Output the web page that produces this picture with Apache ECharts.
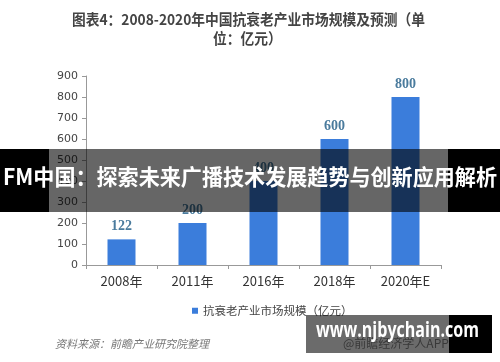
<!DOCTYPE html>
<html><head><meta charset="utf-8">
<script src="https://cdn.jsdelivr.net/npm/echarts@6/dist/echarts.min.js"></script>
<style>html,body{margin:0;padding:0;background:#fff}#c{width:500px;height:362px}</style>
</head><body><div id="c"></div>
<script>
const categories = ['2008年','2011年','2016年','2018年','2020年E'];
const values = [122, 200, 400, 600, 800];
const seriesName = '抗衰老产业市场规模（亿元）';
const titleLines = ['图表4：2008-2020年中国抗衰老产业市场规模及预测（单', '位：亿元）'];
const sourceText = '资料来源：前瞻产业研究院整理';
const bannerText = 'FM中国：探索未来广播技术发展趋势与创新应用解析';
const siteText = 'www.njbychain.com';
const appText = '@前瞻经济学人APP';

const cjk = '"Noto Sans CJK SC", "Noto Sans", sans-serif';
const mctx = document.createElement('canvas').getContext('2d');
function fitScale(text, font, target) {
  mctx.font = font;
  return target / mctx.measureText(text).width;
}
const bannerFont = 'bold 22px "Noto Sans CJK SC"';
const siteFont = 'bold 21px "Open Sans", "DejaVu Sans", sans-serif';
const titleFont = 'bold 15px "Noto Sans CJK SC"';
const bannerScale = fitScale(bannerText, bannerFont, 494);
const siteScale = fitScale(siteText, siteFont, 163);
const titleScale = fitScale(titleLines[0], titleFont, 353);

const chart = echarts.init(document.getElementById('c'), null, {renderer: 'canvas'});
chart.setOption({
  animation: false,
  backgroundColor: '#fff',
  legend: {
    data: [seriesName], left: 187, top: 300, itemWidth: 6, itemHeight: 6, itemGap: 3,
    icon: 'rect',
    textStyle: {fontFamily: cjk, fontSize: 11.5, color: '#444'}
  },
  grid: {left: 86, right: 59, top: 76, bottom: 97},
  xAxis: {
    type: 'category', data: categories,
    axisLine: {lineStyle: {color: '#999'}},
    axisTick: {show: true, alignWithLabel: false, length: 4, lineStyle: {color: '#999'}},
    axisLabel: {fontFamily: cjk, fontSize: 13, color: '#333', margin: 10}
  },
  yAxis: {
    type: 'value', min: 0, max: 900, interval: 100,
    axisLine: {show: true, lineStyle: {color: '#999'}},
    axisTick: {show: true, length: 4, lineStyle: {color: '#999'}},
    splitLine: {show: false},
    axisLabel: {fontFamily: '"DejaVu Sans", sans-serif', fontSize: 11, color: '#444', margin: 8}
  },
  series: [{
    type: 'bar', name: seriesName, data: values, barWidth: 28,
    itemStyle: {color: '#3b7ddb'},
    label: {show: true, position: 'top', distance: 6, color: '#4a7b9d',
      fontFamily: '"Liberation Serif", serif', fontWeight: 'bold', fontSize: 14}
  }],
  graphic: [
    {type: 'text', x: 72, y: 12, scaleX: titleScale, z: 5,
      style: {text: titleLines[0], fill: '#444', font: titleFont}},
    {type: 'text', x: 213, y: 31, scaleX: titleScale, z: 5,
      style: {text: titleLines[1], fill: '#444', font: titleFont}},
    {type: 'text', left: 55, top: 338, z: 5, style: {text: sourceText, fill: '#777',
      font: 'italic 11px "Noto Sans CJK SC"'}},
    {type: 'text', left: 343, top: 337, z: 5, style: {text: appText, fill: '#888',
      font: '12px "Noto Sans CJK SC"'}},
    // top banner
    {type: 'rect', z: 100, shape: {x: 0, y: 149, width: 49, height: 63}, style: {fill: '#000'}},
    {type: 'rect', z: 100, shape: {x: 49, y: 149, width: 399, height: 63}, style: {fill: 'rgba(0,0,0,0.6)'}},
    {type: 'rect', z: 100, shape: {x: 448, y: 149, width: 52, height: 63}, style: {fill: '#000'}},
    {type: 'text', z: 101, x: 3, y: 166, scaleX: bannerScale, style: {text: bannerText, fill: '#fff',
      font: bannerFont}},
    // bottom banner
    {type: 'rect', z: 100, shape: {x: 306, y: 315, width: 143, height: 38}, style: {fill: 'rgba(0,0,0,0.58)'}},
    {type: 'rect', z: 100, shape: {x: 449, y: 315, width: 43, height: 38}, style: {fill: '#000'}},
    {type: 'text', z: 101, x: 316, y: 321, scaleX: siteScale, style: {text: siteText, fill: '#fff',
      font: siteFont}}
  ]
});
</script></body></html>
